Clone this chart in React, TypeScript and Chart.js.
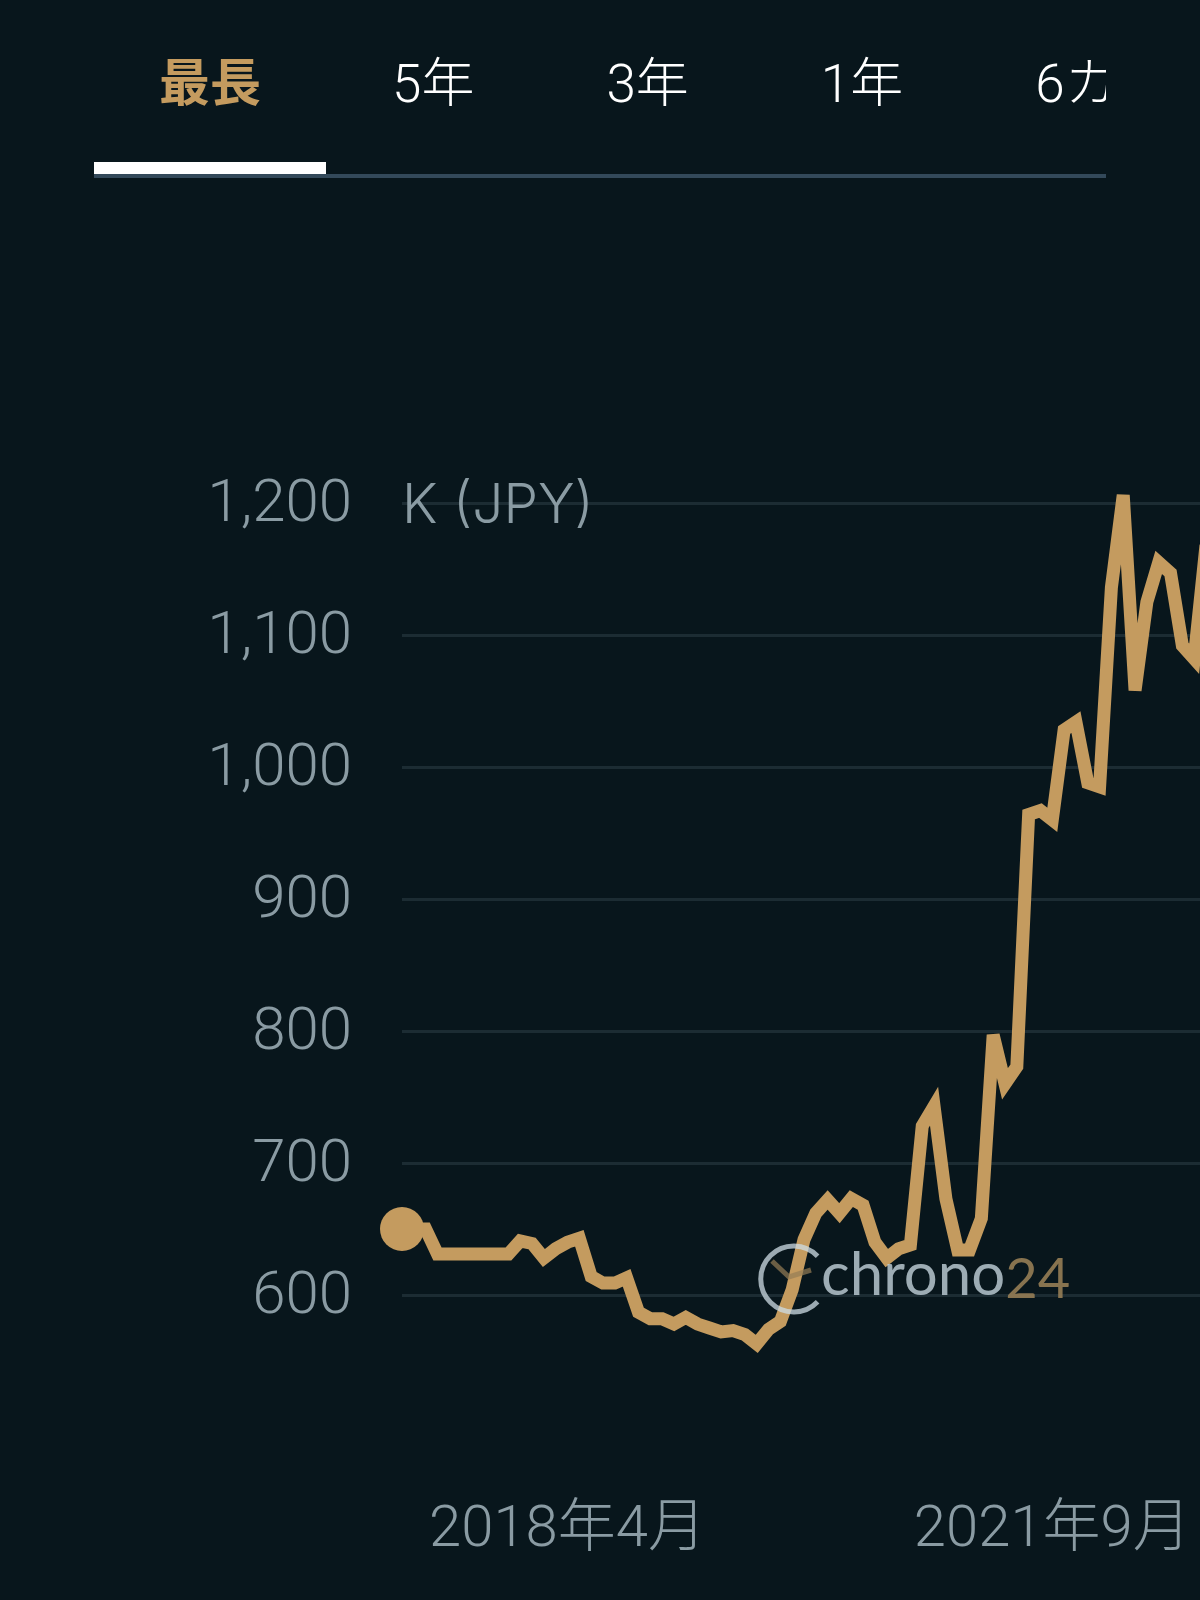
import { useEffect, useRef } from 'react'
import { Chart, registerables } from 'chart.js'

Chart.register(...registerables)

const months = [
  '2017年2月', '2017年3月', '2017年4月', '2017年5月', '2017年6月', '2017年7月', '2017年8月', '2017年9月', '2017年10月', '2017年11月', '2017年12月',
  '2018年1月', '2018年2月', '2018年3月', '2018年4月', '2018年5月', '2018年6月', '2018年7月', '2018年8月', '2018年9月', '2018年10月', '2018年11月', '2018年12月',
  '2019年1月', '2019年2月', '2019年3月', '2019年4月', '2019年5月', '2019年6月', '2019年7月', '2019年8月', '2019年9月', '2019年10月', '2019年11月', '2019年12月',
  '2020年1月', '2020年2月', '2020年3月', '2020年4月', '2020年5月', '2020年6月', '2020年7月', '2020年8月', '2020年9月', '2020年10月', '2020年11月', '2020年12月',
  '2021年1月', '2021年2月', '2021年3月', '2021年4月', '2021年5月', '2021年6月', '2021年7月', '2021年8月', '2021年9月', '2021年10月', '2021年11月', '2021年12月',
  '2022年1月', '2022年2月', '2022年3月', '2022年4月', '2022年5月', '2022年6月', '2022年7月', '2022年8月', '2022年9月', '2022年10月',
]

const prices = [
  650, 650, 650, 631, 631, 631, 631, 631, 631, 631, 641,
  639, 628, 635, 640, 643, 614, 609, 609, 613, 587, 582, 582,
  578, 583, 578, 575, 572, 573, 570, 563, 574, 580, 604, 642,
  662, 672, 662, 673, 668, 640, 628, 635, 638, 728, 743, 673,
  634, 634, 658, 797, 760, 773, 964, 967, 960, 1028, 1034, 988,
  985, 1136, 1206, 1058, 1125, 1155, 1147, 1092, 1082, 1168,
]

const xTickLabels = ['2018年4月', '2021年9月']
const yTickValues = [600, 700, 800, 900, 1000, 1100, 1200]
const tabs = ['最長', '5年', '3年', '1年', '6カ月']

const BG = '#08161c'
const GOLD = '#c49b5f'
const AXIS_TEXT = '#8a9ba3'
const FONT = 'Roboto, "Noto Sans CJK JP", sans-serif'

// svg default miter limit gives the flat tips on the sharp peaks
const miterPlugin = {
  id: 'miterLimit',
  beforeDatasetsDraw(chart: Chart) {
    chart.ctx.miterLimit = 4
  },
}

export default function App() {
  const canvasRef = useRef<HTMLCanvasElement | null>(null)

  useEffect(() => {
    if (!canvasRef.current) return
    const chart = new Chart(canvasRef.current, {
      type: 'line',
      data: {
        labels: months,
        datasets: [
          {
            data: prices,
            borderColor: GOLD,
            backgroundColor: GOLD,
            borderWidth: 13,
            borderJoinStyle: 'miter',
            borderCapStyle: 'butt',
            tension: 0,
            clip: false,
            pointRadius: (ctx: any) => (ctx.dataIndex === 0 ? 22 : 0),
            pointBorderWidth: 0,
            pointBackgroundColor: GOLD,
          },
        ],
      },
      options: {
        responsive: false,
        maintainAspectRatio: false,
        animation: false,
        devicePixelRatio: 1,
        layout: { autoPadding: false, padding: { top: 371 } },
        plugins: {
          legend: { display: false },
          tooltip: { enabled: false },
        },
        scales: {
          x: {
            offset: false,
            grid: { display: false },
            border: { display: false },
            afterFit: (scale: any) => {
              scale.height = 173
              scale.paddingLeft = 0
              scale.paddingRight = 0
            },
            ticks: {
              autoSkip: false,
              minRotation: 0,
              maxRotation: 0,
              padding: 62,
              color: AXIS_TEXT,
              font: { family: FONT, size: 58, weight: 300 },
              callback: function (this: any, value: any) {
                const label = this.getLabelForValue(value)
                return xTickLabels.includes(label) ? label : ''
              },
            },
          },
          y: {
            min: 500,
            max: 1300,
            afterBuildTicks: (scale: any) => {
              scale.ticks = yTickValues.map(value => ({ value }))
            },
            afterFit: (scale: any) => {
              scale.width = 402
            },
            grid: { color: '#1c2c33', lineWidth: 3, drawTicks: false },
            border: { display: false },
            ticks: {
              padding: 50,
              labelOffset: 3,
              color: AXIS_TEXT,
              font: { family: FONT, size: 60, weight: 300 },
              callback: (value: any) => Number(value).toLocaleString('en-US'),
            },
          },
        },
      },
      plugins: [miterPlugin],
    } as any)
    return () => chart.destroy()
  }, [])

  return (
    <div style={{ position: 'relative', width: 1200, height: 1600, overflow: 'hidden', background: BG, fontFamily: FONT }}>
      <style>{'html,body{margin:0;background:' + BG + '}'}</style>

      <div style={{ position: 'absolute', left: 94, top: 0, width: 1012, height: 178, overflow: 'hidden' }}>
        <div style={{ position: 'absolute', left: 0, top: 174, width: 1012, height: 4, background: '#33495a' }} />
        <div style={{ position: 'absolute', left: 0, top: 162, width: 232, height: 12, background: '#ffffff' }} />
        <div style={{ display: 'flex', whiteSpace: 'nowrap' }}>
          {tabs.map((tab, i) => (
            <div
              key={tab}
              style={{
                padding: i === 0 ? '49px 65px 0' : '49px 66px 0',
                fontSize: i === 0 ? 51 : 53,
                lineHeight: '70px',
                fontWeight: i === 0 ? 700 : 300,
                color: i === 0 ? GOLD : '#ffffff',
              }}
            >
              {tab}
            </div>
          ))}
        </div>
      </div>

      <canvas ref={canvasRef} width={1206} height={1600} style={{ position: 'absolute', left: 0, top: 0 }} />

      <div style={{ position: 'absolute', left: 402, top: 463, fontFamily: 'Inter, sans-serif', fontSize: 55, lineHeight: '80px', fontWeight: 300, color: AXIS_TEXT }}>
        K (JPY)
      </div>

      {/* watermark sits over the line */}
      <svg width={90} height={90} style={{ position: 'absolute', left: 745, top: 1234 }}>
        <path d="M 72.6 22.2 A 33 33 0 1 0 72.6 67.8" fill="none" stroke="rgba(205,220,228,0.75)" strokeWidth={5} />
        <path d="M 27 27 L 44 43 L 66 36" fill="none" stroke="rgba(150,125,85,0.7)" strokeWidth={5} />
      </svg>
      <div style={{ position: 'absolute', left: 821, top: 1232, fontFamily: 'Lato, sans-serif', fontWeight: 400, fontSize: 60, lineHeight: '80px', whiteSpace: 'nowrap', color: 'rgba(190,205,213,0.82)' }}>
        chrono<span style={{ position: 'relative', top: 3, fontSize: 56, color: 'rgba(150,125,85,0.9)' }}>24</span>
      </div>
    </div>
  )
}
